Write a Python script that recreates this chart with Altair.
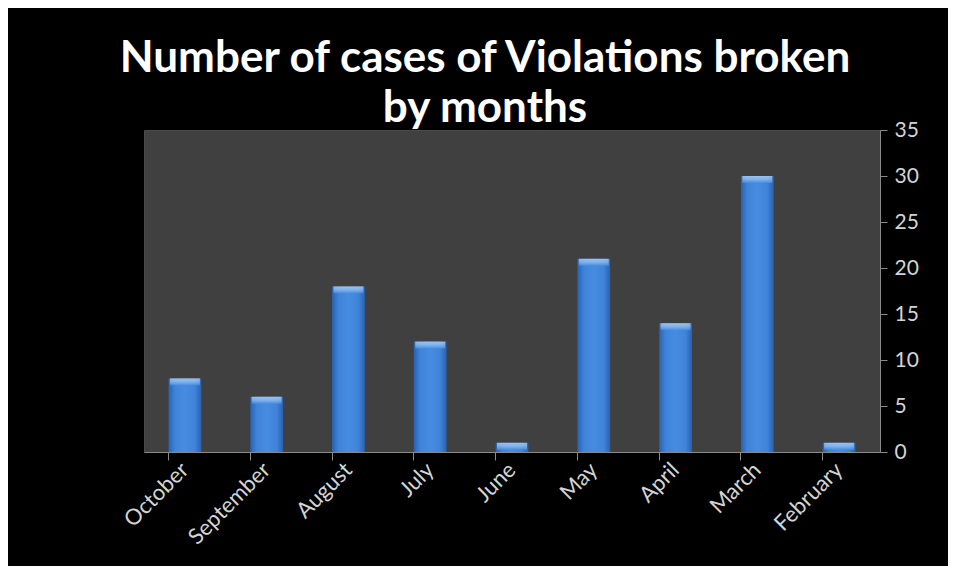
import altair as alt
import pandas as pd

months = ["October", "September", "August", "July", "June", "May", "April", "March", "February"]
cases = [8, 6, 18, 12, 1, 21, 14, 30, 1]
y_ticks = [0, 5, 10, 15, 20, 25, 30, 35]

df = pd.DataFrame({"month": months, "cases": cases})

x_enc = alt.X("month:N", sort=months, title=None,
              scale=alt.Scale(paddingInner=0.6, paddingOuter=0.3),
              axis=alt.Axis(labelAngle=-45, labelAlign="right", labelBaseline="middle",
                            bandPosition=0, labelFont="Lato", labelFontSize=22,
                            labelColor="#d4d4d4", domainColor="#8a8a8a", tickColor="#8a8a8a",
                            tickSize=8, labelPadding=6, grid=False))
y_enc = alt.Y("cases:Q", title=None,
              scale=alt.Scale(domain=[0, 35], nice=False),
              axis=alt.Axis(orient="right", values=y_ticks, labelFont="Lato", labelFontSize=21,
                            labelColor="#d4d4d4", domainColor="#8a8a8a", tickColor="#8a8a8a",
                            tickSize=7, labelPadding=7, grid=False))

grad = alt.Gradient(
    gradient="linear",
    stops=[alt.GradientStop(color="#2a62b0", offset=0),
           alt.GradientStop(color="#3f84da", offset=0.2),
           alt.GradientStop(color="#468ce0", offset=0.5),
           alt.GradientStop(color="#3f84da", offset=0.8),
           alt.GradientStop(color="#2a62b0", offset=1)],
    x1=0, x2=1, y1=0, y2=0)

bars = alt.Chart(df).mark_bar(fill=grad).encode(x=x_enc, y=y_enc)

cap_grad = alt.Gradient(
    gradient="linear",
    stops=[alt.GradientStop(color="#c0dcf9", offset=0),
           alt.GradientStop(color="#9ac4f2", offset=0.5),
           alt.GradientStop(color="#4a8ee0", offset=1)],
    x1=0, x2=0, y1=0, y2=1)

caps = alt.Chart(df).mark_tick(fill=cap_grad, thickness=7, size=30, yOffset=3.5).encode(
    x=alt.X("month:N", sort=months), y=alt.Y("cases:Q"))

chart = (bars + caps).properties(
    width=736, height=322,
    title=alt.TitleParams(text=["Number of cases of Violations broken", "by months"],
                          font="Lato", fontSize=44, fontWeight="bold", color="white",
                          anchor="middle", dx=-27, offset=-12, lineHeight=50),
    background="black",
    padding={"left": 136, "top": 122, "right": 68, "bottom": 114},
    autosize=alt.AutoSizeParams(type="none"),
).configure_view(fill="#404040", stroke="#4a4a4a")

chart.save("out.html", embed_options={"renderer": "svg", "actions": False})
